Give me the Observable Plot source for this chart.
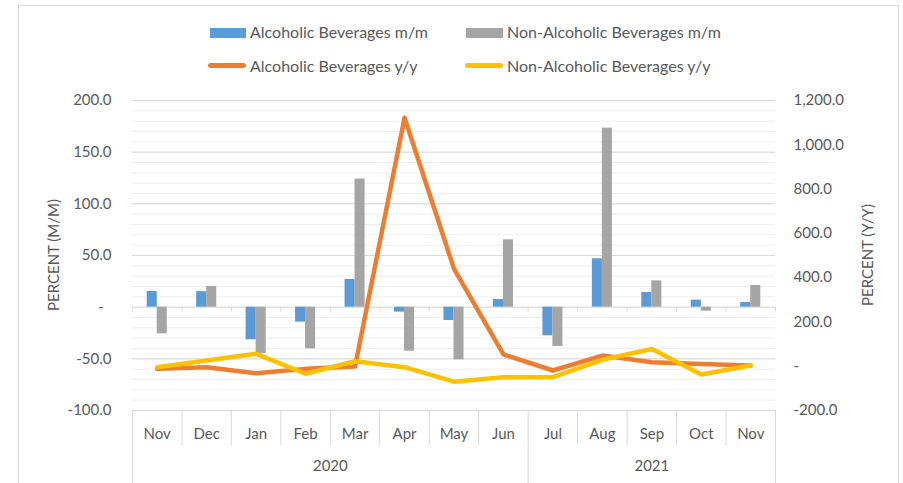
<!DOCTYPE html>
<html><head><meta charset="utf-8">
<script src="https://cdn.jsdelivr.net/npm/d3@7"></script>
<script src="https://cdn.jsdelivr.net/npm/@observablehq/plot@0.6"></script>
<style>
body{margin:0;background:#fff;font-family:Lato,"Open Sans",sans-serif;color:#595959;}
#wrap{position:relative;width:903px;height:483px;overflow:hidden;background:#fff;}
#frame{position:absolute;left:18px;top:5px;width:881px;height:520px;border:1px solid #D9D9D9;box-sizing:border-box;}
#chart{position:absolute;left:0;top:0;}
.lt{position:absolute;font-size:16px;line-height:16px;white-space:nowrap;}
.sw{position:absolute;}
.ax{position:absolute;font-size:15px;line-height:16px;white-space:nowrap;transform:translate(-50%,-50%) rotate(-90deg);}
</style></head>
<body><div id="wrap"><div id="frame"></div><div id="chart"></div></div>
<script>
const months = ["Nov","Dec","Jan","Feb","Mar","Apr","May","Jun","Jul","Aug","Sep","Oct","Nov"];
const alcMM = [15.2, 15.0, -31.6, -14.5, 26.8, -4.8, -12.9, 7.4, -27.7, 46.8, 14.2, 6.8, 4.5];
const nonAlcMM = [-25.8, 20.0, -45.0, -40.3, 124.0, -42.6, -51.0, 65.2, -38.0, 173.3, 25.5, -3.9, 21.0];
const alcYY = [-12, -4.5, -31.5, -12, -1.4, 1122, 440, 53, -19.4, 48, 18, 10.5, 3];
const nonAlcYY = [-4.5, 26, 56, -34, 22.6, -4.5, -70, -50, -49, 29, 78, -37.5, 3];
const years = ["2020", "2021"];
const yearStart = [0, 8];
const yearEnd = [8, 13];
const leftTicks = [-100, -50, 0, 50, 100, 150, 200];
const rightTicks = [-200, 0, 200, 400, 600, 800, 1000, 1200];
const seriesNames = ["Alcoholic Beverages m/m","Non-Alcoholic Beverages m/m","Alcoholic Beverages y/y","Non-Alcoholic Beverages y/y"];
const colors = ["#5B9BD5","#A5A5A5","#ED7D31","#FFC000"];

const L0 = -100, L1 = 200, R0 = -200, R1 = 1200;
const toLeft = v => L0 + (v - R0) * (L1 - L0) / (R1 - R0);
const fromLeft = v => R0 + (v - L0) * (R1 - R0) / (L1 - L0);
const f1 = d3.formatLocale({decimal: ".", thousands: ",", grouping: [3], currency: ["", ""], minus: "-"}).format(",.1f");
const fmt = v => Math.abs(v) < 1e-6 ? "-\u00a0\u00a0" : f1(v);
const fmtR = v => Math.abs(v) < 1e-6 ? "-" : f1(v);

const rows = months.map((m, i) => ({i, m, a: alcMM[i], n: nonAlcMM[i], ay: toLeft(alcYY[i]), ny: toLeft(nonAlcYY[i])}));
const minor = d3.range(L0, L1 + 1, 10);
const major = d3.range(L0, L1 + 1, 50);
const cats = d3.range(months.length);
const bounds = d3.range(months.length + 1);

const chart = Plot.plot({
  width: 903, height: 483,
  marginTop: 100, marginBottom: 73, marginLeft: 132, marginRight: 128,
  x: {domain: [0, months.length]},
  y: {domain: [L0, L1]},
  style: {fontFamily: "Lato, 'Open Sans', sans-serif", fontSize: "15px", color: "#595959", background: "transparent"},
  marks: [
    Plot.ruleY(minor, {y: d => d, stroke: "#EEEEEE", strokeWidth: 1}),
    Plot.ruleY(major, {y: d => d, stroke: "#D9D9D9", strokeWidth: 1}),
    Plot.ruleX(bounds, {x: d => d, y1: 0, y2: 0, insetBottom: -5, stroke: "#D9D9D9"}),
    Plot.ruleX(bounds.filter(d => !yearStart.includes(d) && d !== months.length), {x: d => d, y1: L0, y2: L0, insetBottom: -35, stroke: "#D9D9D9"}),
    Plot.ruleX(yearStart.concat([yearEnd[yearEnd.length - 1]]), {x: d => d, y1: L0, y2: L0, insetBottom: -80, stroke: "#D9D9D9"}),
    Plot.rectY(rows, {x1: "i", x2: d => d.i + 1, y1: 0, y2: "a", fill: colors[0], insetLeft: 14.7, insetRight: 24.7}),
    Plot.rectY(rows, {x1: "i", x2: d => d.i + 1, y1: 0, y2: "n", fill: colors[1], insetLeft: 24.7, insetRight: 14.7}),
    Plot.line(rows, {x: d => d.i + 0.5, y: "ay", stroke: colors[2], strokeWidth: 4.5, strokeLinejoin: "round", strokeLinecap: "round"}),
    Plot.line(rows, {x: d => d.i + 0.5, y: "ny", stroke: colors[3], strokeWidth: 4.5, strokeLinejoin: "round", strokeLinecap: "round"}),
    Plot.axisY(leftTicks, {anchor: "left", tickSize: 0, tickPadding: 21, tickFormat: fmt, label: null, fontSize: 15}),
    Plot.axisY(rightTicks.map(toLeft), {anchor: "right", tickSize: 0, tickPadding: 18, tickFormat: v => fmtR(fromLeft(v)), label: null, fontSize: 15}),
    Plot.axisX(cats.map(i => i + 0.5), {anchor: "bottom", tickSize: 0, tickPadding: 18, tickFormat: v => months[Math.floor(v)], label: null, fontSize: 15}),
    Plot.axisX(years.map((y, k) => (yearStart[k] + yearEnd[k]) / 2), {anchor: "bottom", tickSize: 0, tickPadding: 50, tickFormat: v => years[yearStart.findIndex((s, k) => (s + yearEnd[k]) / 2 === v)], label: null, fontSize: 15})
  ]
});
document.getElementById("chart").appendChild(chart);

const wrap = document.getElementById("wrap");
function add(cls, css, text) {
  const d = document.createElement("div");
  d.className = cls;
  Object.assign(d.style, css);
  if (text) d.textContent = text;
  wrap.appendChild(d);
}
// legend
add("sw", {left: "210px", top: "28px", width: "36px", height: "10px", background: colors[0]});
add("lt", {left: "250px", top: "24px"}, seriesNames[0]);
add("sw", {left: "466px", top: "28px", width: "37px", height: "10px", background: colors[1]});
add("lt", {left: "507px", top: "24px"}, seriesNames[1]);
add("sw", {left: "208px", top: "63px", width: "38px", height: "5px", borderRadius: "3px", background: colors[2]});
add("lt", {left: "250px", top: "58px"}, seriesNames[2]);
add("sw", {left: "465px", top: "63px", width: "38px", height: "5px", borderRadius: "3px", background: colors[3]});
add("lt", {left: "507px", top: "58px"}, seriesNames[3]);
// axis titles
add("ax", {left: "53px", top: "255px"}, "PERCENT (M/M)");
add("ax", {left: "867px", top: "255px"}, "PERCENT (Y/Y)");
</script>
</body></html>
